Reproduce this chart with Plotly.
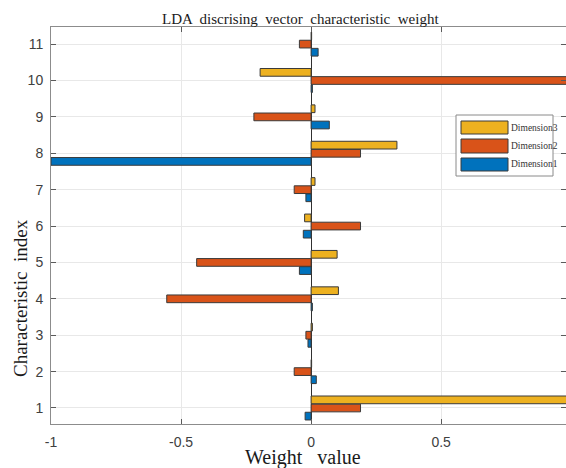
import plotly.graph_objects as go

# ---- data ----
indices = [1, 2, 3, 4, 5, 6, 7, 8, 9, 10, 11]
dim1 = [-0.023, 0.02, -0.012, 0.005, -0.045, -0.03, -0.02, -1.0, 0.07, 0.005, 0.027]
dim2 = [0.19, -0.065, -0.02, -0.555, -0.44, 0.19, -0.065, 0.19, -0.22, 1.0, -0.045]
dim3 = [1.0, 0.002, 0.005, 0.105, 0.10, -0.025, 0.015, 0.33, 0.015, -0.196, 0.002]
series_names = ["Dimension1", "Dimension2", "Dimension3"]
series_values = [dim1, dim2, dim3]
colors = ["#0072BD", "#D95319", "#EDB120"]

x_ticks = [-1, -0.5, 0, 0.5]
x_ticklabels = ["-1", "-0.5", "0", "0.5"]
title_text = "LDA  discrising  vector  characteristic  weight"
xlabel = "Weight   value"
ylabel = "Characteristic  index"

W, H = 566, 468
ML, MR, MT, MB = 51, 0, 27, 44
PW, PH = W - ML - MR, H - MT - MB


def px(x):
    return (x - ML) / PW


def py(y):
    return (H - MB - y) / PH


fig = go.Figure()
for name, vals, col in zip(series_names, series_values, colors):
    fig.add_trace(go.Bar(
        y=indices, x=vals, orientation="h", name=name,
        marker=dict(color=col, line=dict(color="#3a3a3a", width=1)),
        showlegend=False,
    ))

axis_common = dict(
    showline=True, linecolor="#8c8c8c", linewidth=1, mirror="ticks",
    ticks="inside", ticklen=5, tickcolor="#5a5a5a",
    showgrid=True, gridcolor="#e8e8e8", gridwidth=1,
    tickfont=dict(family="Liberation Sans, Arial", size=14, color="#404040"),
)

fig.update_xaxes(
    range=[-1.0, 0.98], tickvals=x_ticks, ticktext=x_ticklabels,
    zeroline=True, zerolinecolor="#303030", zerolinewidth=1,
    ticklabelstandoff=5, **axis_common,
)
fig.update_yaxes(
    range=[0.56, 11.47], tickvals=indices, zeroline=False,
    ticklabelstandoff=4, **axis_common,
)

# custom legend (MATLAB style)
shapes = []
annotations = []
shapes.append(dict(type="rect", xref="paper", yref="paper",
                   x0=px(456), x1=px(553), y0=py(176), y1=py(115),
                   line=dict(color="#8a8a8a", width=1), fillcolor="white", layer="above"))
leg_rows = [(121, 134), (139, 153), (158, 171)]
for (y0, y1), name, col in zip(leg_rows, series_names[::-1], colors[::-1]):
    shapes.append(dict(type="rect", xref="paper", yref="paper",
                       x0=px(461), x1=px(508), y0=py(y1), y1=py(y0),
                       line=dict(color="#3a3a3a", width=1), fillcolor=col, layer="above"))
    annotations.append(dict(xref="paper", yref="paper", x=px(509), y=py((y0 + y1) / 2),
                            text=name, showarrow=False, xanchor="left", yanchor="middle",
                            font=dict(family="Liberation Serif, Times New Roman", size=9.5, color="#333333")))

annotations.append(dict(xref="paper", yref="paper", x=px(300), y=py(19), text=title_text,
                        showarrow=False, xanchor="center", yanchor="middle",
                        font=dict(family="Liberation Serif, Times New Roman", size=15, color="#1a1a1a")))
annotations.append(dict(xref="paper", yref="paper", x=px(303), y=py(457), text=xlabel,
                        showarrow=False, xanchor="center", yanchor="middle",
                        font=dict(family="Liberation Serif, Times New Roman", size=20, color="#1a1a1a")))
annotations.append(dict(xref="paper", yref="paper", x=px(20), y=py(298), text=ylabel,
                        showarrow=False, xanchor="center", yanchor="middle", textangle=-90,
                        font=dict(family="Liberation Serif, Times New Roman", size=19, color="#1a1a1a")))

fig.update_layout(
    width=W, height=H, margin=dict(l=ML, r=MR, t=MT, b=MB),
    barmode="group", bargap=0.33, bargroupgap=0.05,
    plot_bgcolor="white", paper_bgcolor="white",
    shapes=shapes, annotations=annotations,
)

fig.write_html("out.html")
